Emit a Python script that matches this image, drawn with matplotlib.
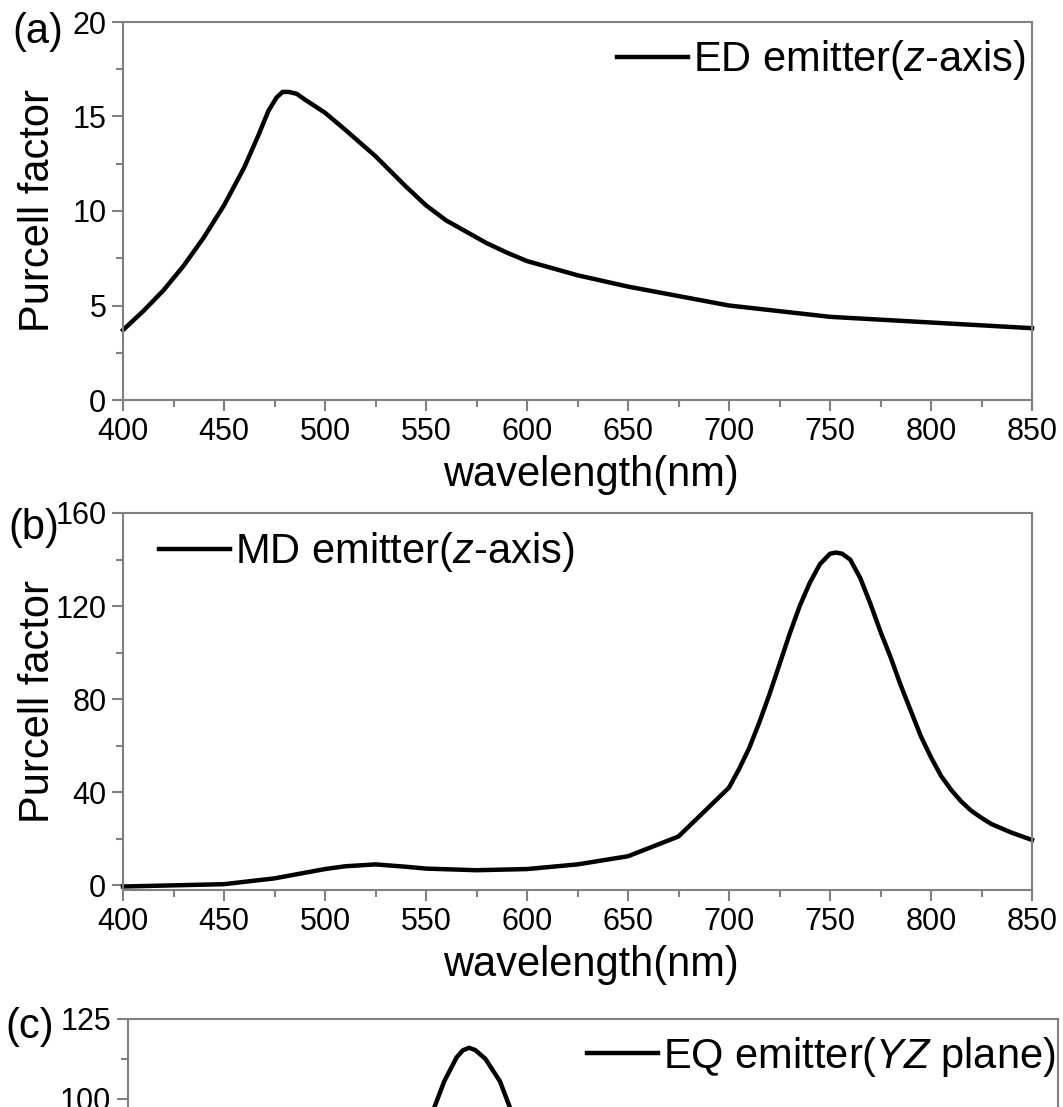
import numpy as np
import matplotlib
matplotlib.use('Agg')
import matplotlib.pyplot as plt
from matplotlib.ticker import MultipleLocator

plt.rcParams['font.family'] = ['Liberation Sans', 'DejaVu Sans']
plt.rcParams['mathtext.fontset'] = 'custom'
plt.rcParams['mathtext.rm'] = 'Liberation Sans'
plt.rcParams['mathtext.it'] = 'Liberation Sans:italic'

# (a) ED emitter, z-axis
a_wl = [400, 410, 420, 430, 440, 450, 460, 467, 472, 476, 479, 482, 486, 490, 500, 510,
        525, 540, 550, 560, 570, 580, 590, 600, 625, 650, 675, 700, 725, 750, 775, 800, 825, 850]
a_pf = [3.7, 4.7, 5.8, 7.1, 8.6, 10.3, 12.3, 14.0, 15.3, 16.0, 16.3, 16.3, 16.2, 15.9, 15.2, 14.3,
        12.9, 11.3, 10.3, 9.5, 8.9, 8.3, 7.8, 7.35, 6.6, 6.0, 5.5, 5.0, 4.7, 4.4, 4.25, 4.1, 3.95, 3.8]

# (b) MD emitter, z-axis
b_wl = [400, 425, 450, 475, 500, 510, 525, 540, 550, 575, 600, 625, 650, 675, 700,
        705, 710, 715, 720, 725, 730, 735, 740, 745, 750, 753, 756, 760, 765, 770,
        775, 780, 785, 790, 795, 800, 805, 810, 815, 820, 825, 830, 840, 850]
b_pf = [-0.5, 0, 0.5, 3, 7, 8.2, 9.0, 8.0, 7.2, 6.5, 7.0, 9.0, 12.5, 21, 42,
        50, 59, 70, 82, 95, 108, 120, 130, 138, 142.5, 143, 142.5, 140, 132, 121,
        109, 98, 86, 75, 64, 55, 47, 41, 36, 32, 29, 26.3, 22.6, 19.5]

# (c) EQ emitter, YZ plane (only the top of the peak is visible)
c_wl = [400, 450, 500, 525, 540, 548, 553, 559, 562, 565, 568, 573, 580, 585, 595, 610,
        650, 700, 750, 800, 850]
c_pf = [8, 12, 22, 40, 75, 97, 105.5, 113, 115.2, 116, 115.3, 112.5, 105.5, 97, 78, 55,
        30, 18, 12, 9, 7]

W, H = 1063, 1107
gray = '#808080'
fig = plt.figure(figsize=(W / 100, H / 100), dpi=100)


def px_axes(left, top, right, bottom):
    return fig.add_axes([left / W, 1 - bottom / H, (right - left) / W, (bottom - top) / H])


def style(ax, ylo, yhi, ystep, label_x, label_y=0.5):
    ax.set_xlim(400, 850)
    ax.set_ylim(ylo, yhi)
    ax.xaxis.set_major_locator(MultipleLocator(50))
    ax.xaxis.set_minor_locator(MultipleLocator(25))
    ax.yaxis.set_major_locator(MultipleLocator(ystep))
    ax.yaxis.set_minor_locator(MultipleLocator(ystep / 2))
    ax.tick_params(which='both', direction='out', color=gray, width=1.5,
                   labelsize=22, pad=4, top=False, right=False)
    ax.tick_params(which='major', length=8)
    ax.tick_params(which='minor', length=5)
    for s in ax.spines.values():
        s.set_color(gray)
        s.set_linewidth(1.5)
    ax.set_ylabel('Purcell factor', fontsize=30)
    ax.yaxis.set_label_coords(label_x, label_y)
    ax.set_xlabel('wavelength(nm)', fontsize=30, labelpad=6)
    ax.xaxis.label.set_x(0.515)


ax_a = px_axes(123, 22, 1032, 400)
ax_b = px_axes(123, 513, 1032, 890)
ax_c = px_axes(128, 1019, 1058, 1419)

style(ax_a, 0, 20, 5, -0.072)
style(ax_b, -2, 160, 40, -0.072)
style(ax_c, 0, 125, 25, -0.078, 0.45)

leg_kw = dict(frameon=False, fontsize=30, handlelength=1.7, handletextpad=0.12,
              borderpad=0, borderaxespad=0)

ax_a.plot(a_wl, a_pf, color='black', lw=3.2, clip_on=False,
          label='ED emitter($z$-axis)')
ax_a.legend(loc='center right', bbox_to_anchor=(0.993, 0.899), **leg_kw)

ax_b.plot(b_wl, b_pf, color='black', lw=3.2, clip_on=False,
          label='MD emitter($z$-axis)')
ax_b.legend(loc='center left', bbox_to_anchor=(0.04, 0.896), **leg_kw)

ax_c.plot(c_wl, c_pf, color='black', lw=3.2, clip_on=False,
          label='EQ emitter($YZ$ plane)')
ax_c.legend(loc='center right', bbox_to_anchor=(0.997, 0.905), **leg_kw)

fig.text(12 / W, 1 - 32 / H, '(a)', fontsize=30, ha='left', va='center')
fig.text(8 / W, 1 - 528 / H, '(b)', fontsize=30, ha='left', va='center')
fig.text(5 / W, 1 - 1027 / H, '(c)', fontsize=30, ha='left', va='center')

fig.savefig('out.png', dpi=100)
